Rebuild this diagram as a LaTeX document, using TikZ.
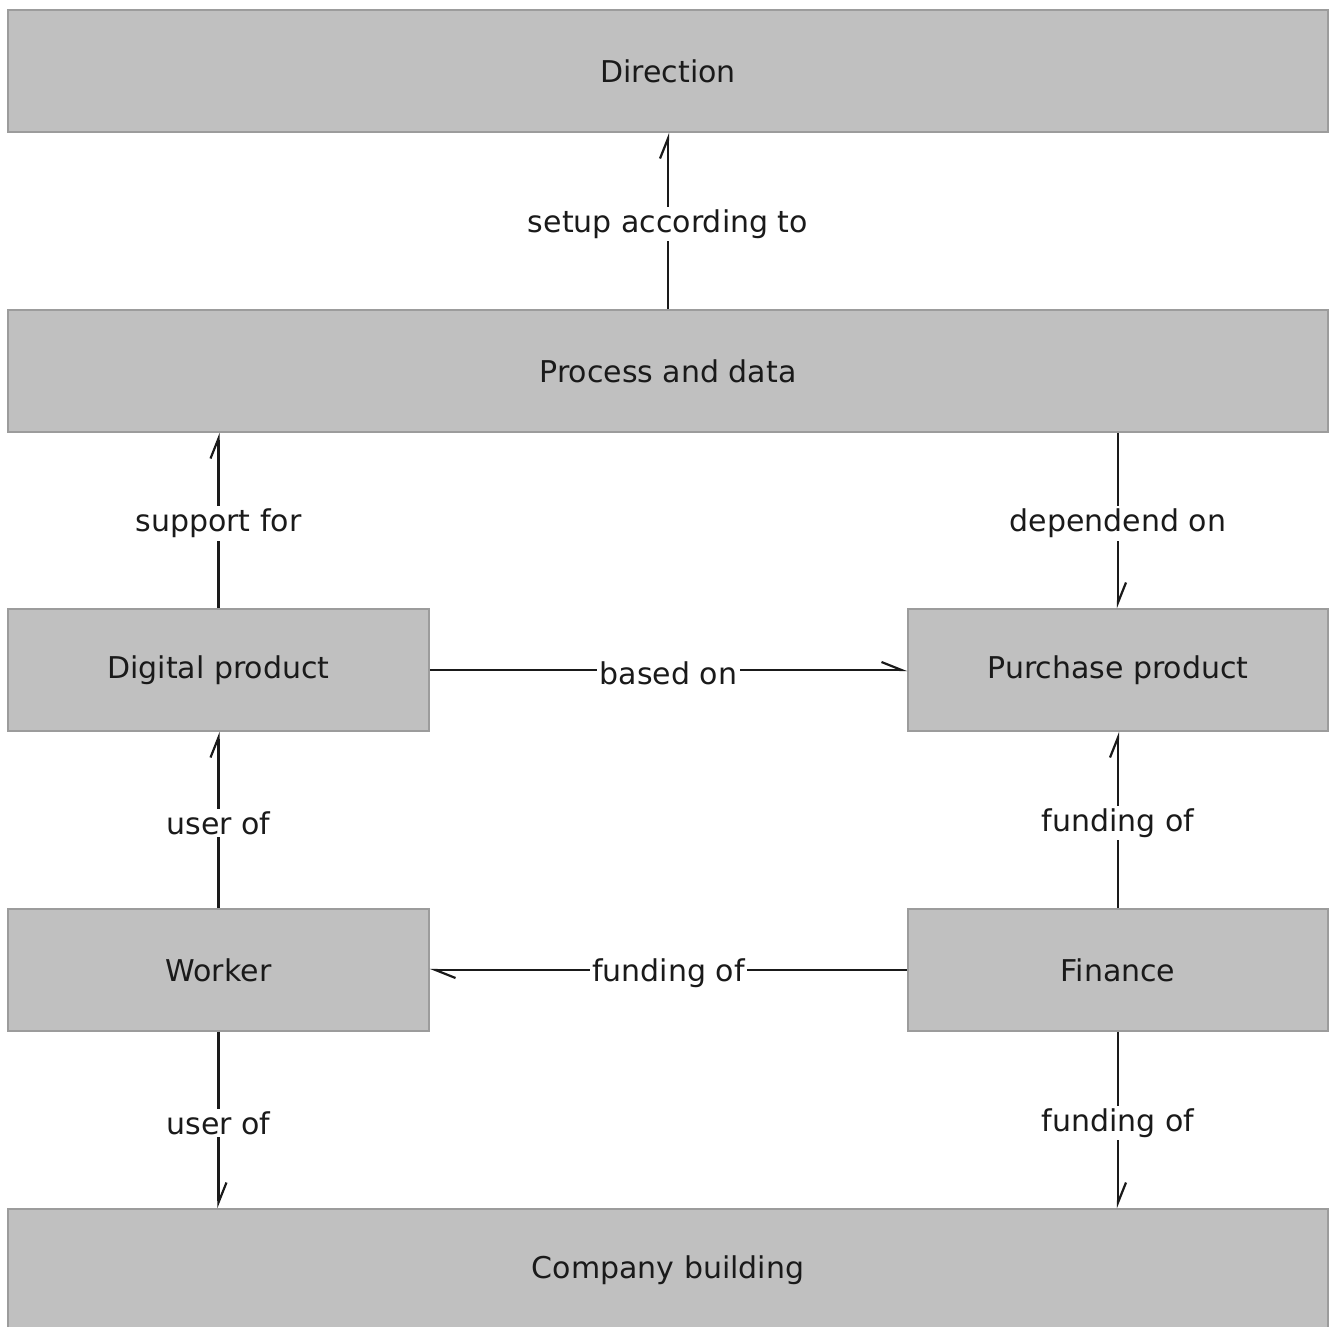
\documentclass[tikz,border=0pt]{standalone}
\usepackage{fontspec}
\setmainfont{DejaVu Sans}
\usetikzlibrary{arrows.meta}
\definecolor{boxfill}{HTML}{C0C0C0}
\definecolor{boxline}{HTML}{9C9C9C}
\definecolor{txt}{HTML}{1A1A1A}
\begin{document}
\begin{tikzpicture}[x=1pt,y=-1pt,
  box/.style={draw=boxline, fill=boxfill, line width=1.6pt, minimum height=122pt, inner sep=0pt,
    font=\fontsize{30}{36}\selectfont, text=txt},
  conn/.style={line width=2.2pt, draw=txt, -{Straight Barb[harpoon,length=20pt,width=16pt,line width=2.2pt]}},
  lab/.style={fill=white, inner sep=2.5pt, yshift=-3pt, font=\fontsize{30}{36}\selectfont, text=txt}]
\useasboundingbox (0,0) rectangle (1330,1326);
\clip (0,0) rectangle (1330,1326);
\node[box, minimum width=1320pt] (dir) at (668,71) {Direction};
\node[box, minimum width=1320pt] (pd) at (668,371) {Process and data};
\node[box, minimum width=421pt] (dp) at (218.5,670) {Digital product};
\node[box, minimum width=420pt] (pp) at (1118,670) {Purchase product};
\node[box, minimum width=421pt] (wk) at (218.5,970) {Worker};
\node[box, minimum width=420pt] (fi) at (1118,970) {Finance};
\node[box, minimum width=1320pt] (cb) at (668,1270) {Company building};

\draw[conn] (pd.north) -- node[lab]{setup according to} (dir.south);
\draw[conn] (dp.north) -- node[lab]{support for} (dp.north |- pd.south);
\draw[conn] (pp.north |- pd.south) -- node[lab]{dependend on} (pp.north);
\draw[conn] (dp.east) -- node[lab]{based on} (pp.west);
\draw[conn] (wk.north) -- node[lab]{user of} (dp.south);
\draw[conn] (fi.north) -- node[lab]{funding of} (pp.south);
\draw[conn] (fi.west) -- node[lab]{funding of} (wk.east);
\draw[conn] (wk.south) -- node[lab]{user of} (wk.south |- cb.north);
\draw[conn] (fi.south) -- node[lab]{funding of} (fi.south |- cb.north);
\end{tikzpicture}
\end{document}
